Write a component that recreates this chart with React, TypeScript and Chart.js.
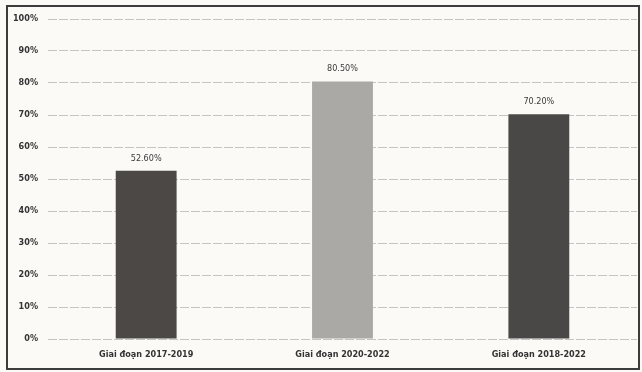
import React, { useEffect, useRef } from "react";
import { Chart, registerables } from "chart.js";
Chart.register(...registerables);

const categories = ["Giai đoạn 2017-2019", "Giai đoạn 2020-2022", "Giai đoạn 2018-2022"];
const values = [52.6, 80.5, 70.2];
const barColors = ["#4b4845", "#aaa9a6", "#4a4846"];
const yTicks = [0, 10, 20, 30, 40, 50, 60, 70, 80, 90, 100];

const FONT = "'Liberation Sans Narrow', 'DejaVu Sans Condensed', 'Open Sans', sans-serif";

const valueLabels = {
  id: "valueLabels",
  afterDatasetsDraw(chart: any) {
    const ctx = chart.ctx;
    const meta = chart.getDatasetMeta(0);
    ctx.save();
    ctx.font = `9px ${FONT}`;
    ctx.fillStyle = "#3a3a3a";
    ctx.textAlign = "center";
    ctx.textBaseline = "bottom";
    meta.data.forEach((el: any, i: number) => {
      ctx.fillText(values[i].toFixed(2) + "%", el.x, el.y - 8);
    });
    ctx.restore();
  },
};

export default function App() {
  const ref = useRef<HTMLCanvasElement>(null);
  useEffect(() => {
    const chart = new Chart(ref.current!, {
      type: "bar",
      data: {
        labels: categories,
        datasets: [
          {
            data: values,
            backgroundColor: barColors,
            categoryPercentage: 1,
            barPercentage: 0.31,
          },
        ],
      },
      options: {
        animation: false,
        responsive: false,
        maintainAspectRatio: false,
        layout: { padding: { top: 19, right: 5, left: 0, bottom: 0 } },
        plugins: { legend: { display: false }, tooltip: { enabled: false } },
        scales: {
          x: {
            grid: { display: false, drawTicks: false },
            border: { display: false },
            ticks: { color: "#333", font: { family: FONT, size: 9, weight: "bold" }, padding: 10, maxRotation: 0 },
            afterFit: (s: any) => { s.height = 33; },
          },
          y: {
            min: 0,
            max: 100,
            afterBuildTicks: (s: any) => { s.ticks = yTicks.map((v) => ({ value: v })); },
            grid: { color: "#c4c4c4", lineWidth: 1, drawTicks: false },
            border: { display: false, dash: [9, 2] },
            ticks: {
              color: "#333",
              font: { family: FONT, size: 9, weight: "bold" },
              padding: 10,
              callback: (v: any) => v + "%",
            },
            afterFit: (s: any) => { s.width = 48; },
          },
        },
      } as any,
      plugins: [valueLabels],
    });
    return () => chart.destroy();
  }, []);
  return (
    <div style={{ position: "fixed", left: 0, top: 0, width: 642, height: 372, background: "#fbfaf7" }}>
      <canvas ref={ref} width={642} height={372} style={{ position: "absolute", left: 0, top: 0 }} />
      <div
        style={{
          position: "absolute",
          left: 6,
          top: 5,
          width: 630,
          height: 361,
          border: "2px solid #3c3c3c",
          pointerEvents: "none",
        }}
      />
    </div>
  );
}
